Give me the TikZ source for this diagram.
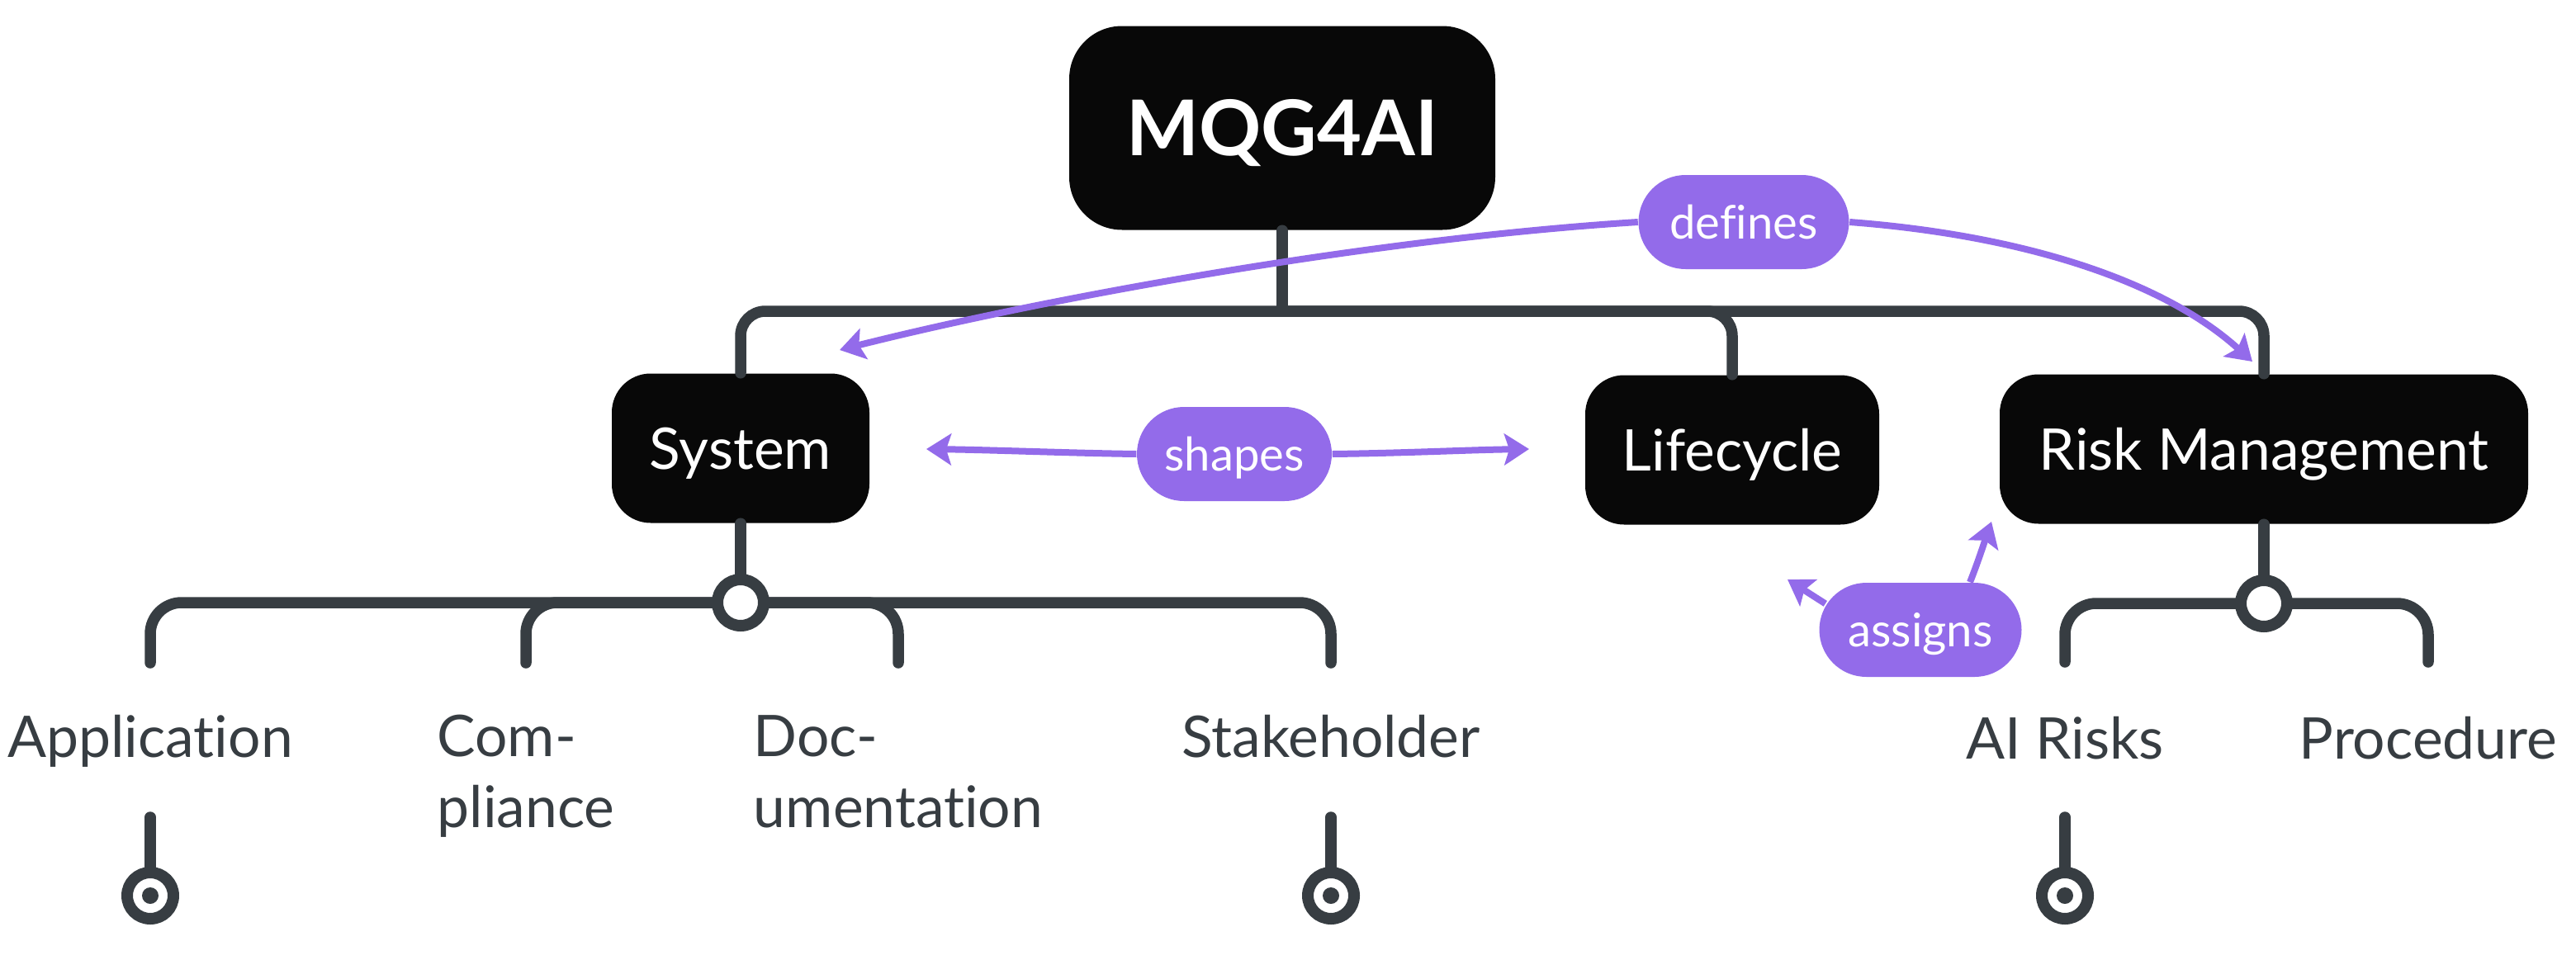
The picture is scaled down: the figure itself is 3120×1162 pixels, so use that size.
\documentclass[tikz,border=0pt]{standalone}
\usepackage{fontspec}
\setmainfont{Lato}[Ligatures=NoCommon]
\usetikzlibrary{arrows.meta,calc}
\definecolor{ink}{HTML}{373D42}
\definecolor{boxfill}{HTML}{080808}
\definecolor{lav}{HTML}{936BEA}
\begin{document}
\begin{tikzpicture}[x=0.1mm,y=-0.1mm,
  rootbox/.style={fill=boxfill, text=white, rounded corners=6.4mm, minimum width=51.6mm, minimum height=24.7mm, inner sep=0pt, text height=6.7mm, text depth=0pt, font=\fontsize{26.5pt}{30pt}\selectfont\bfseries},
  topic/.style={fill=boxfill, text=white, rounded corners=4.7mm, minimum height=18.1mm, inner sep=0pt, text height=5mm, text depth=0pt, font=\fontsize{19.8pt}{24pt}\selectfont},
  leaf/.style={text=ink, inner sep=0pt, anchor=base, align=left, font=\fontsize{19.8pt}{24.2pt}\selectfont},
  pill/.style={fill=lav, text=white, rounded corners=5.7mm, minimum height=11.4mm, inner sep=0pt, text height=4mm, text depth=0pt, font=\fontsize{16pt}{19pt}\selectfont},
  tree/.style={draw=ink, line width=1.35mm, line cap=round},
  ring/.style={circle, draw=ink, fill=white, line width=1.4mm, minimum size=5.6mm, inner sep=0pt},
  endmark/.style={ring, path picture={\fill[ink] (path picture bounding box.center) circle (1mm);}},
  rel/.style={draw=lav, line width=0.8mm, -{Stealth[length=3mm, width=3.8mm, inset=0.6mm]}}
]
\useasboundingbox (0,0) rectangle (3120,1162);

% main topics
\node[rootbox] (mq) at (1553,155) {MQG4AI};
\node[topic, minimum width=31.2mm] (sys) at (897,543) {System};
\node[topic, minimum width=35.6mm] (lc) at (2098,545) {Lifecycle};
\node[topic, minimum width=64mm] (rm) at (2742,544) {Risk Management};

% top tree
\coordinate (hub) at (1553,377);
\draw[tree] (mq.south) -- (hub);
\draw[tree, rounded corners=3mm] (hub) -| (sys.north);
\draw[tree, rounded corners=3mm] (hub) -| (lc.north);
\draw[tree, rounded corners=3mm] (hub) -| (rm.north);

% System subtree
\coordinate (shub) at (897,730);
\coordinate (appE) at (182,803);
\coordinate (cmpE) at (637,803);
\coordinate (docE) at (1088,803);
\coordinate (stkE) at (1612,803);
\draw[tree] (sys.south) -- (shub);
\draw[tree, rounded corners=3.8mm] (shub) -| (appE);
\draw[tree, rounded corners=3.8mm] (shub) -| (cmpE);
\draw[tree, rounded corners=3.8mm] (shub) -| (docE);
\draw[tree, rounded corners=3.8mm] (shub) -| (stkE);
\node[ring] (shubring) at (shub) {};

% leaf labels (two-line nodes are placed by the baseline of their last line)
\node[leaf] (app) at (182,917) {Application};
\node[leaf] (cmp) at (637,1002) {Com-\\pliance};
\node[leaf] (doc) at (1088,1002) {Doc-\\umentation};
\node[leaf] (stk) at (1612,917) {Stakeholder};

% Risk management subtree
\coordinate (rhub) at (2742,731);
\coordinate (airE) at (2501,802);
\coordinate (proE) at (2941,802);
\draw[tree] (rm.south) -- (rhub);
\draw[tree, rounded corners=3.8mm] (rhub) -| (airE);
\draw[tree, rounded corners=3.8mm] (rhub) -| (proE);
\node[ring] (rhubring) at (rhub) {};

\node[leaf] (air) at (2501,919) {AI Risks};
\node[leaf] (pro) at (2941,919) {Procedure};

% end markers
\coordinate (appS) at (182,990);
\coordinate (stkS) at (1612,990);
\coordinate (airS) at (2501,990);
\node[endmark] (appM) at (182,1085) {};
\node[endmark] (stkM) at (1612,1085) {};
\node[endmark] (airM) at (2501,1085) {};
\draw[tree] (appS) -- (appM.north);
\draw[tree] (stkS) -- (stkM.north);
\draw[tree] (airS) -- (airM.north);

% relations
\node[pill, minimum width=25.5mm] (def) at (2112,269) {defines};
\node[pill, minimum width=23.6mm] (sh) at (1495,550) {shapes};
\node[pill, minimum width=24.5mm] (as) at (2326,763) {assigns};

\coordinate (defL) at (1017,424);
\coordinate (defR) at (2728,438);
\coordinate (shL) at (1122,544);
\coordinate (shR) at (1852,544);
\coordinate (asL) at (2165,702);
\coordinate (asR) at (2412,632);

\draw[rel] (def.west) .. controls (1650,290) and (1250,365) .. (defL);
\draw[rel] (def.east) .. controls (2450,285) and (2620,340) .. (defR);
\draw[rel] (sh.west) .. controls (1300,549) and (1200,545) .. (shL);
\draw[rel] (sh.east) .. controls (1700,549) and (1780,545) .. (shR);
\draw[rel] ([xshift=0.8mm,yshift=-2.6mm]as.north west) -- (asL);
\draw[rel] ([xshift=6mm]as.north) .. controls (2396,680) and (2404,655) .. (asR);
\end{tikzpicture}
\end{document}
